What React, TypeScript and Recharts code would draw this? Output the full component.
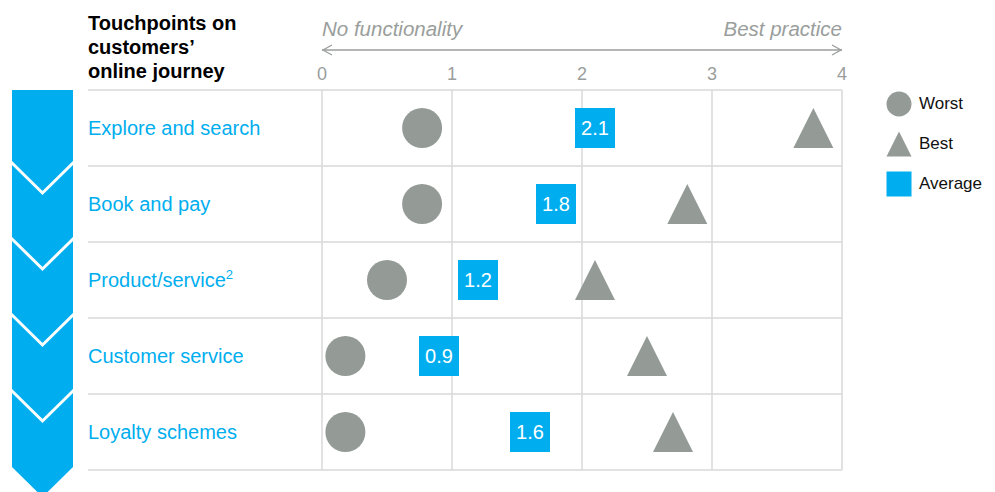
import React from "react"
import {
  ScatterChart,
  Scatter,
  XAxis,
  YAxis,
  ReferenceLine,
  LabelList,
  Legend,
  Customized,
} from "recharts"

// Journey stages, top to bottom
const stages = ["Explore and search", "Book and pay", "Product/service", "Customer service", "Loyalty schemes"]
const footnotes = ["", "", "2", "", ""]

// Functionality scores per stage (0 = none, 4 = best practice)
const worst = [0.77, 0.77, 0.5, 0.18, 0.18]
const best = [3.78, 2.81, 2.1, 2.5, 2.7]
const average = [2.1, 1.8, 1.2, 0.9, 1.6]

const seriesNames = ["Worst", "Best", "Average"]
const scoreTicks = [0, 1, 2, 3, 4]
const titleLines = ["Touchpoints on", "customers\u2019", "online journey"]
const scaleLeftText = "No functionality"
const scaleRightText = "Best practice"

const W = 995
const H = 492
const margin = { top: 60, right: 153, bottom: 22, left: 87 }
const X_MIN = -1.8
const X_MAX = 4
const FONT = "'Liberation Sans', Arial, Helvetica, sans-serif"
const BLUE = "#00aeef"
const GREY = "#949b96"
const GRID = "#d9d9d9"
const MUTED = "#9a9e9c"

const plotL = margin.left + 1
const plotW = W - plotL - margin.right
const plotTop = margin.top + 30
const rowH = (H - margin.bottom - plotTop) / stages.length
const toPx = (v: number) => plotL + ((v - X_MIN) / (X_MAX - X_MIN)) * plotW

const rows = (values: number[]) => values.map((v, i) => ({ x: v, y: i + 0.5, value: v }))
const rowEdges = [...stages.map((_, i) => i), stages.length]
const rowCenters = stages.map((_, i) => i + 0.5)

const WorstShape = (p: any) => <circle cx={p.cx} cy={p.cy} r={20} fill={GREY} />
const BestShape = (p: any) => (
  <polygon
    points={`${p.cx - 20},${p.cy + 20} ${p.cx},${p.cy - 20} ${p.cx + 20},${p.cy + 20}`}
    fill={GREY}
  />
)
const AverageShape = (p: any) => <rect x={p.cx - 20} y={p.cy - 20} width={40} height={40} fill={BLUE} />

const StageTick = ({ x, y, payload }: any) => {
  const i = Math.floor(payload.value)
  return (
    <text x={plotL} y={y + 7} fill={BLUE} fontSize={20} fontFamily={FONT} textAnchor="start">
      {stages[i]}
      {footnotes[i] && (
        <tspan dy={-8} fontSize={13}>
          {footnotes[i]}
        </tspan>
      )}
    </text>
  )
}

const ScoreTick = ({ x, y, payload }: any) => (
  <text x={x} y={y - 10} fill={MUTED} fontSize={18} fontFamily={FONT} textAnchor="middle">
    {payload.value}
  </text>
)

// Title, scale arrow and the stage chevron column
const Decorations = () => {
  const x0 = toPx(0)
  const x4 = toPx(4)
  const ay = 50
  const colL = 12
  const colR = 73
  const mid = (colL + colR) / 2
  const dip = 30
  const bottom = plotTop + rowH * stages.length - 3
  return (
    <g>
      <text fontFamily={FONT} fontSize={20} fontWeight="bold" fill="#000">
        {titleLines.map((t, i) => (
          <tspan key={i} x={plotL} y={30 + i * 24}>
            {t}
          </tspan>
        ))}
      </text>
      <text x={x0} y={36} fill={MUTED} fontSize={20.5} fontStyle="italic" fontFamily={FONT}>
        {scaleLeftText}
      </text>
      <text x={x4} y={36} fill={MUTED} fontSize={20.5} fontStyle="italic" fontFamily={FONT} textAnchor="end">
        {scaleRightText}
      </text>
      <line x1={x0} y1={ay} x2={x4} y2={ay} stroke={MUTED} strokeWidth={1.3} />
      <polyline points={`${x0 + 10},${ay - 5} ${x0 + 1},${ay} ${x0 + 10},${ay + 5}`} fill="none" stroke={MUTED} strokeWidth={1.3} />
      <polyline points={`${x4 - 10},${ay - 5} ${x4 - 1},${ay} ${x4 - 10},${ay + 5}`} fill="none" stroke={MUTED} strokeWidth={1.3} />
      <polygon
        points={`${colL},${plotTop} ${colR},${plotTop} ${colR},${bottom} ${mid},${bottom + dip} ${colL},${bottom}`}
        fill={BLUE}
      />
      {stages.slice(1).map((_, i) => {
        const e = plotTop + rowH * (i + 1) - 3
        return (
          <polyline
            key={i}
            points={`${colL - 1},${e - 1} ${mid},${e + dip} ${colR + 1},${e - 1}`}
            fill="none"
            stroke="#fff"
            strokeWidth={3}
          />
        )
      })}
    </g>
  )
}

const LegendIcon = ({ kind }: { kind: string }) => (
  <svg width={26} height={26} style={{ display: "block" }}>
    {kind === "Worst" && <circle cx={13} cy={13} r={12.5} fill={GREY} />}
    {kind === "Best" && <polygon points="0.5,25.5 13,0.5 25.5,25.5" fill={GREY} />}
    {kind === "Average" && <rect x={0.5} y={0.5} width={25} height={25} fill={BLUE} />}
  </svg>
)

const LegendContent = ({ payload }: any) => {
  const items = [...(payload || [])].sort(
    (a: any, b: any) => seriesNames.indexOf(a.value) - seriesNames.indexOf(b.value)
  )
  return (
    <div style={{ fontFamily: FONT, fontSize: 17, color: "#111" }}>
      {items.map((e: any) => (
        <div key={e.value} style={{ display: "flex", alignItems: "center", height: 40 }}>
          <LegendIcon kind={e.value} />
          <span style={{ marginLeft: 7 }}>{e.value}</span>
        </div>
      ))}
    </div>
  )
}

export default function App() {
  return (
    <div style={{ position: "absolute", left: 0, top: 0, width: W, height: H, background: "#fff" }}>
      <ScatterChart width={W} height={H} margin={margin}>
        <XAxis
          type="number"
          dataKey="x"
          orientation="top"
          domain={[X_MIN, X_MAX]}
          ticks={scoreTicks}
          allowDataOverflow
          axisLine={false}
          tickLine={false}
          tickSize={0}
          tickMargin={0}
          height={30}
          tick={<ScoreTick />}
        />
        <YAxis
          type="number"
          dataKey="y"
          domain={[0, stages.length]}
          reversed
          ticks={rowCenters}
          interval={0}
          axisLine={false}
          tickLine={false}
          tickSize={0}
          tickMargin={0}
          width={1}
          tick={<StageTick />}
        />
        {rowEdges.map((r) => (
          <ReferenceLine key={`h${r}`} y={r} stroke={GRID} strokeWidth={1.5} />
        ))}
        {scoreTicks.map((t) => (
          <ReferenceLine key={`v${t}`} x={t} stroke={GRID} strokeWidth={1.5} />
        ))}
        <Legend
          layout="horizontal"
          verticalAlign="middle"
          align="center"
          wrapperStyle={{ left: 886, top: 84, width: 110, height: 120 }}
          content={<LegendContent />}
        />
        <Customized component={<Decorations />} />
        <Scatter name="Worst" data={rows(worst)} shape={WorstShape} fill={GREY} isAnimationActive={false} />
        <Scatter name="Best" data={rows(best)} shape={BestShape} fill={GREY} isAnimationActive={false} />
        <Scatter name="Average" data={rows(average)} shape={AverageShape} fill={BLUE} isAnimationActive={false}>
          <LabelList
            dataKey="value"
            position="center"
            fill="#fff"
            fontSize={20}
            fontFamily={FONT}
            formatter={(v: any) => Number(v).toFixed(1)}
          />
        </Scatter>
      </ScatterChart>
    </div>
  )
}
